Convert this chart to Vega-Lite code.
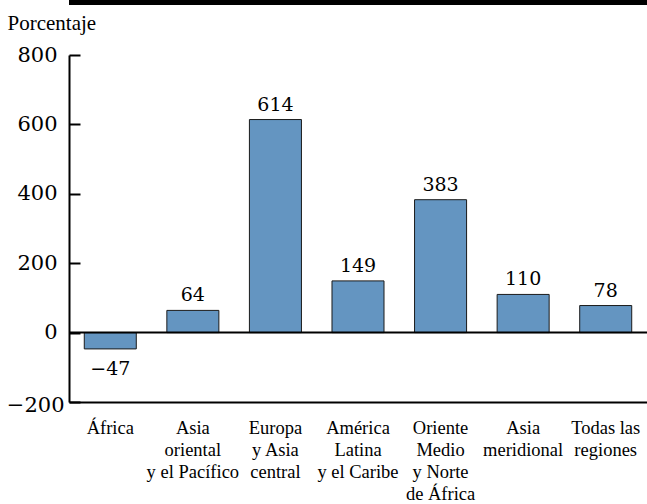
{
  "$schema": "https://vega.github.io/schema/vega-lite/v6.json",
  "width": 578,
  "height": 347,
  "autosize": {"type": "none"},
  "padding": {"left": 69, "top": 55, "right": 0, "bottom": 102},
  "background": "white",
  "config": {"view": {"stroke": null}},
  "data": {
    "values": [
      {"region": "África", "value": -47},
      {"region": "Asia\noriental\ny el Pacífico", "value": 64},
      {"region": "Europa\ny Asia\ncentral", "value": 614},
      {"region": "América\nLatina\ny el Caribe", "value": 149},
      {"region": "Oriente\nMedio\ny Norte\nde África", "value": 383},
      {"region": "Asia\nmeridional", "value": 110},
      {"region": "Todas las\nregiones", "value": 78}
    ]
  },
  "layer": [
    {
      "data": {"values": [{}]},
      "mark": {"type": "rule", "clip": false, "color": "black", "strokeWidth": 5},
      "encoding": {"y": {"datum": 951, "type": "quantitative"}}
    },
    {
      "mark": {"type": "bar", "fill": "#6495c1", "stroke": "#1a1a1a", "strokeWidth": 1},
      "encoding": {
        "x": {
          "field": "region", "type": "nominal", "sort": null,
          "scale": {"paddingInner": 0.37, "paddingOuter": 0.185},
          "axis": {
            "title": null,
            "labelExpr": "split(datum.label, '\\n')",
            "labelAngle": 0,
            "labelFont": "Liberation Serif",
            "labelFontSize": 18.5,
            "labelLineHeight": 22,
            "labelBaseline": "alphabetic",
            "labelPadding": 31,
            "labelColor": "black",
            "labelOverlap": false,
            "ticks": false,
            "domainColor": "black",
            "domainWidth": 2
          }
        },
        "y": {
          "field": "value", "type": "quantitative",
          "scale": {"domain": [-200, 800], "nice": false, "zero": false},
          "axis": {
            "values": [-200, 0, 200, 400, 600, 800],
            "title": "Porcentaje",
            "titleAngle": 0,
            "titleAlign": "left",
            "titleBaseline": "alphabetic",
            "titleX": -62,
            "titleY": -26,
            "titleFont": "Liberation Serif",
            "titleFontSize": 21,
            "titleFontWeight": "normal",
            "titleColor": "black",
            "labelFont": "DejaVu Serif",
            "labelFontSize": 21,
            "labelColor": "black",
            "labelPadding": {"condition": {"test": "datum.value == -200", "value": 16}, "value": 23},
            "labelOffset": {"condition": {"test": "datum.value == -200", "value": 3}, "value": 0},
            "tickSize": -11,
            "tickWidth": 2,
            "tickColor": "black",
            "domainColor": "black",
            "domainWidth": 2,
            "grid": false
          }
        }
      }
    },
    {
      "data": {"values": [{}]},
      "mark": {"type": "rule", "color": "black", "strokeWidth": 2},
      "encoding": {"y": {"datum": 0, "type": "quantitative"}}
    },
    {
      "transform": [{"filter": "datum.value >= 0"}],
      "mark": {"type": "text", "font": "DejaVu Serif", "fontSize": 19, "color": "black", "baseline": "alphabetic", "dy": -9},
      "encoding": {
        "x": {"field": "region", "type": "nominal", "sort": null},
        "y": {"field": "value", "type": "quantitative"},
        "text": {"field": "value", "type": "quantitative", "format": "d"}
      }
    },
    {
      "transform": [{"filter": "datum.value < 0"}],
      "mark": {"type": "text", "font": "DejaVu Serif", "fontSize": 19, "color": "black", "baseline": "alphabetic", "dy": 26},
      "encoding": {
        "x": {"field": "region", "type": "nominal", "sort": null},
        "y": {"field": "value", "type": "quantitative"},
        "text": {"field": "value", "type": "quantitative", "format": "d"}
      }
    }
  ]
}
